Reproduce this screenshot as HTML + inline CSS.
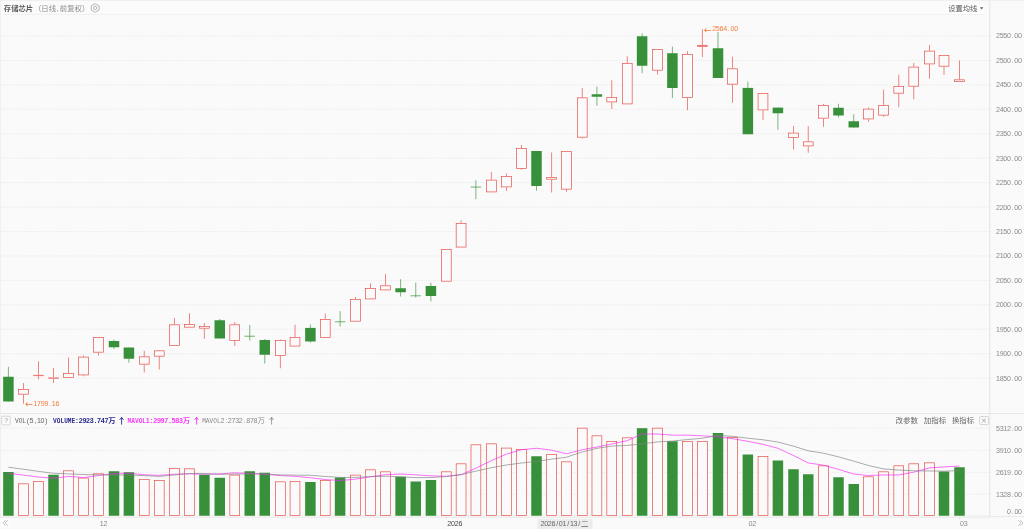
<!DOCTYPE html>
<html lang="zh"><head><meta charset="utf-8"><title>存储芯片 K线</title>
<style>
html,body{margin:0;padding:0;background:#fafafa;overflow:hidden}
svg{display:block;font-family:"Liberation Sans","Noto Sans CJK SC",sans-serif}
.ax{font-family:"Liberation Mono",monospace;font-size:7.4px;fill:#8a8a8a}
.cj{font-size:7.4px}
</style></head><body>
<svg width="1024" height="529" viewBox="0 0 1024 529">
<rect x="0" y="0" width="1024" height="529" fill="#fafafa"/>
<rect x="1.5" y="1.5" width="982.5" height="12.7" fill="#fbfbfb"/>
<rect x="0" y="0" width="1024" height="1" fill="#f0f0f0"/>
<rect x="0" y="1" width="0.9" height="516.5" fill="#efefef"/>
<rect x="946.5" y="3.6" width="37.5" height="10.6" fill="#fefefe"/>
<line x1="3" y1="14.4" x2="984" y2="14.4" stroke="#ececec" stroke-width="0.7"/>
<g stroke="#e0e0e0" stroke-width="0.62" stroke-dasharray="1.24 1.24" fill="none">
<line x1="1.5" y1="36.00" x2="991.3" y2="36.00"/>
<line x1="1.5" y1="60.44" x2="991.3" y2="60.44"/>
<line x1="1.5" y1="84.88" x2="991.3" y2="84.88"/>
<line x1="1.5" y1="109.32" x2="991.3" y2="109.32"/>
<line x1="1.5" y1="133.76" x2="991.3" y2="133.76"/>
<line x1="1.5" y1="158.20" x2="991.3" y2="158.20"/>
<line x1="1.5" y1="182.64" x2="991.3" y2="182.64"/>
<line x1="1.5" y1="207.08" x2="991.3" y2="207.08"/>
<line x1="1.5" y1="231.52" x2="991.3" y2="231.52"/>
<line x1="1.5" y1="255.96" x2="991.3" y2="255.96"/>
<line x1="1.5" y1="280.40" x2="991.3" y2="280.40"/>
<line x1="1.5" y1="304.84" x2="991.3" y2="304.84"/>
<line x1="1.5" y1="329.28" x2="991.3" y2="329.28"/>
<line x1="1.5" y1="353.72" x2="991.3" y2="353.72"/>
<line x1="1.5" y1="378.16" x2="991.3" y2="378.16"/>
<line x1="1.5" y1="428.00" x2="991.3" y2="428.00"/>
<line x1="1.5" y1="450.50" x2="991.3" y2="450.50"/>
<line x1="1.5" y1="472.40" x2="991.3" y2="472.40"/>
<line x1="1.5" y1="494.20" x2="991.3" y2="494.20"/>
<line x1="1.5" y1="515.60" x2="991.3" y2="515.60"/>
</g>
<g stroke="#e2e2e2" stroke-width="0.8" fill="none">
<line x1="989.7" y1="1" x2="989.7" y2="516.8" stroke-width="0.7" stroke="#dedede"/>
<line x1="0" y1="413.5" x2="1024" y2="413.5"/>
<line x1="0" y1="517.2" x2="990" y2="517.2"/><line x1="990" y1="516.6" x2="1024" y2="516.6"/>
<line x1="747.6" y1="517" x2="747.6" y2="519.5"/>
<line x1="959.5" y1="517" x2="959.5" y2="519.5"/>
<line x1="98.5" y1="517" x2="98.5" y2="519.3"/>
<line x1="446.3" y1="517" x2="446.3" y2="519.3"/>
</g>
<g class="ax">
<text x="997.94 1001.62 1005.30 1008.98 1012.66 1016.34 1020.02" y="38.45" font-family="Liberation Sans,sans-serif" font-size="7.1px" text-anchor="middle" fill="#8a8a8a">2550.00</text>
<text x="997.94 1001.62 1005.30 1008.98 1012.66 1016.34 1020.02" y="62.89" font-family="Liberation Sans,sans-serif" font-size="7.1px" text-anchor="middle" fill="#8a8a8a">2500.00</text>
<text x="997.94 1001.62 1005.30 1008.98 1012.66 1016.34 1020.02" y="87.33" font-family="Liberation Sans,sans-serif" font-size="7.1px" text-anchor="middle" fill="#8a8a8a">2450.00</text>
<text x="997.94 1001.62 1005.30 1008.98 1012.66 1016.34 1020.02" y="111.77" font-family="Liberation Sans,sans-serif" font-size="7.1px" text-anchor="middle" fill="#8a8a8a">2400.00</text>
<text x="997.94 1001.62 1005.30 1008.98 1012.66 1016.34 1020.02" y="136.21" font-family="Liberation Sans,sans-serif" font-size="7.1px" text-anchor="middle" fill="#8a8a8a">2350.00</text>
<text x="997.94 1001.62 1005.30 1008.98 1012.66 1016.34 1020.02" y="160.65" font-family="Liberation Sans,sans-serif" font-size="7.1px" text-anchor="middle" fill="#8a8a8a">2300.00</text>
<text x="997.94 1001.62 1005.30 1008.98 1012.66 1016.34 1020.02" y="185.09" font-family="Liberation Sans,sans-serif" font-size="7.1px" text-anchor="middle" fill="#8a8a8a">2250.00</text>
<text x="997.94 1001.62 1005.30 1008.98 1012.66 1016.34 1020.02" y="209.53" font-family="Liberation Sans,sans-serif" font-size="7.1px" text-anchor="middle" fill="#8a8a8a">2200.00</text>
<text x="997.94 1001.62 1005.30 1008.98 1012.66 1016.34 1020.02" y="233.97" font-family="Liberation Sans,sans-serif" font-size="7.1px" text-anchor="middle" fill="#8a8a8a">2150.00</text>
<text x="997.94 1001.62 1005.30 1008.98 1012.66 1016.34 1020.02" y="258.41" font-family="Liberation Sans,sans-serif" font-size="7.1px" text-anchor="middle" fill="#8a8a8a">2100.00</text>
<text x="997.94 1001.62 1005.30 1008.98 1012.66 1016.34 1020.02" y="282.85" font-family="Liberation Sans,sans-serif" font-size="7.1px" text-anchor="middle" fill="#8a8a8a">2050.00</text>
<text x="997.94 1001.62 1005.30 1008.98 1012.66 1016.34 1020.02" y="307.29" font-family="Liberation Sans,sans-serif" font-size="7.1px" text-anchor="middle" fill="#8a8a8a">2000.00</text>
<text x="997.94 1001.62 1005.30 1008.98 1012.66 1016.34 1020.02" y="331.73" font-family="Liberation Sans,sans-serif" font-size="7.1px" text-anchor="middle" fill="#8a8a8a">1950.00</text>
<text x="997.94 1001.62 1005.30 1008.98 1012.66 1016.34 1020.02" y="356.17" font-family="Liberation Sans,sans-serif" font-size="7.1px" text-anchor="middle" fill="#8a8a8a">1900.00</text>
<text x="997.94 1001.62 1005.30 1008.98 1012.66 1016.34 1020.02" y="380.61" font-family="Liberation Sans,sans-serif" font-size="7.1px" text-anchor="middle" fill="#8a8a8a">1850.00</text>
<text x="997.94 1001.62 1005.30 1008.98 1012.66 1016.34 1020.02" y="430.55" font-family="Liberation Sans,sans-serif" font-size="7.1px" text-anchor="middle" fill="#8a8a8a">5312.00</text>
<text x="997.94 1001.62 1005.30 1008.98 1012.66 1016.34 1020.02" y="453.45" font-family="Liberation Sans,sans-serif" font-size="7.1px" text-anchor="middle" fill="#8a8a8a">3910.00</text>
<text x="997.94 1001.62 1005.30 1008.98 1012.66 1016.34 1020.02" y="475.25" font-family="Liberation Sans,sans-serif" font-size="7.1px" text-anchor="middle" fill="#8a8a8a">2619.00</text>
<text x="997.94 1001.62 1005.30 1008.98 1012.66 1016.34 1020.02" y="496.65" font-family="Liberation Sans,sans-serif" font-size="7.1px" text-anchor="middle" fill="#8a8a8a">1328.00</text>
<text x="1009.04 1012.72 1016.40 1020.08" y="513.80" font-family="Liberation Sans,sans-serif" font-size="7.1px" text-anchor="middle" fill="#8a8a8a">0.00</text>
</g>
<g stroke-width="0.66">
<line x1="8.40" y1="366.75" x2="8.40" y2="401.50" stroke="#38913a"/><rect x="3.15" y="376.75" width="10.50" height="24.75" fill="#38913a" stroke="none"/>
<line x1="23.50" y1="383.00" x2="23.50" y2="389.25" stroke="#e64840"/><line x1="23.50" y1="394.50" x2="23.50" y2="403.75" stroke="#e64840"/><rect x="18.58" y="389.58" width="9.84" height="4.59" fill="#fafafa" stroke="#e64840"/>
<line x1="38.50" y1="361.25" x2="38.50" y2="374.90" stroke="#e64840"/><line x1="38.50" y1="376.10" x2="38.50" y2="379.25" stroke="#e64840"/><rect x="33.25" y="374.90" width="10.50" height="1.20" fill="#ec7a78" stroke="none"/>
<line x1="53.50" y1="368.00" x2="53.50" y2="377.40" stroke="#e64840"/><line x1="53.50" y1="378.80" x2="53.50" y2="383.00" stroke="#e64840"/><rect x="48.25" y="377.40" width="10.50" height="1.40" fill="#ec7a78" stroke="none"/>
<line x1="68.50" y1="357.50" x2="68.50" y2="373.00" stroke="#e64840"/><rect x="63.58" y="373.33" width="9.84" height="4.09" fill="#fafafa" stroke="#e64840"/>
<line x1="83.50" y1="355.50" x2="83.50" y2="356.75" stroke="#e64840"/><line x1="83.50" y1="375.25" x2="83.50" y2="376.25" stroke="#e64840"/><rect x="78.58" y="357.08" width="9.84" height="17.84" fill="#fafafa" stroke="#e64840"/>
<line x1="98.50" y1="352.50" x2="98.50" y2="355.75" stroke="#e64840"/><rect x="93.58" y="337.58" width="9.84" height="14.59" fill="#fafafa" stroke="#e64840"/>
<line x1="114.00" y1="339.50" x2="114.00" y2="349.00" stroke="#38913a"/><rect x="108.75" y="341.00" width="10.50" height="6.25" fill="#38913a" stroke="none"/>
<line x1="128.90" y1="347.50" x2="128.90" y2="362.75" stroke="#38913a"/><rect x="123.65" y="347.50" width="10.50" height="11.25" fill="#38913a" stroke="none"/>
<line x1="144.25" y1="350.75" x2="144.25" y2="356.50" stroke="#e64840"/><line x1="144.25" y1="364.50" x2="144.25" y2="372.50" stroke="#e64840"/><rect x="139.33" y="356.83" width="9.84" height="7.34" fill="#fafafa" stroke="#e64840"/>
<line x1="159.25" y1="356.50" x2="159.25" y2="369.50" stroke="#e64840"/><rect x="154.33" y="350.83" width="9.84" height="5.34" fill="#fafafa" stroke="#e64840"/>
<line x1="174.50" y1="318.00" x2="174.50" y2="324.50" stroke="#e64840"/><rect x="169.58" y="324.83" width="9.84" height="20.84" fill="#fafafa" stroke="#e64840"/>
<line x1="189.50" y1="313.25" x2="189.50" y2="324.25" stroke="#e64840"/><rect x="184.58" y="324.58" width="9.84" height="2.59" fill="#fafafa" stroke="#e64840"/>
<line x1="204.40" y1="323.00" x2="204.40" y2="326.25" stroke="#e64840"/><line x1="204.40" y1="328.50" x2="204.40" y2="338.75" stroke="#e64840"/><rect x="199.48" y="326.58" width="9.84" height="1.59" fill="#fafafa" stroke="#e64840"/>
<line x1="219.75" y1="319.00" x2="219.75" y2="338.50" stroke="#38913a"/><rect x="214.50" y="320.25" width="10.50" height="18.25" fill="#38913a" stroke="none"/>
<line x1="234.75" y1="322.00" x2="234.75" y2="324.50" stroke="#e64840"/><line x1="234.75" y1="341.00" x2="234.75" y2="346.00" stroke="#e64840"/><rect x="229.83" y="324.83" width="9.84" height="15.84" fill="#fafafa" stroke="#e64840"/>
<line x1="249.75" y1="325.00" x2="249.75" y2="340.50" stroke="#38913a"/><rect x="244.50" y="335.80" width="10.50" height="0.70" fill="#38913a" stroke="none"/>
<line x1="264.75" y1="339.00" x2="264.75" y2="363.50" stroke="#38913a"/><rect x="259.50" y="340.00" width="10.50" height="14.75" fill="#38913a" stroke="none"/>
<line x1="280.40" y1="339.50" x2="280.40" y2="340.00" stroke="#e64840"/><line x1="280.40" y1="355.75" x2="280.40" y2="368.25" stroke="#e64840"/><rect x="275.48" y="340.33" width="9.84" height="15.09" fill="#fafafa" stroke="#e64840"/>
<line x1="295.00" y1="324.75" x2="295.00" y2="337.10" stroke="#e64840"/><rect x="290.08" y="337.43" width="9.84" height="8.64" fill="#fafafa" stroke="#e64840"/>
<line x1="310.40" y1="324.50" x2="310.40" y2="342.50" stroke="#38913a"/><rect x="305.15" y="327.90" width="10.50" height="13.60" fill="#38913a" stroke="none"/>
<line x1="325.25" y1="313.50" x2="325.25" y2="319.25" stroke="#e64840"/><rect x="320.33" y="319.58" width="9.84" height="18.09" fill="#fafafa" stroke="#e64840"/>
<line x1="340.10" y1="311.25" x2="340.10" y2="326.50" stroke="#38913a"/><rect x="334.85" y="321.50" width="10.50" height="0.70" fill="#38913a" stroke="none"/>
<line x1="355.50" y1="297.00" x2="355.50" y2="299.00" stroke="#e64840"/><rect x="350.58" y="299.33" width="9.84" height="21.84" fill="#fafafa" stroke="#e64840"/>
<line x1="370.50" y1="283.25" x2="370.50" y2="288.25" stroke="#e64840"/><rect x="365.58" y="288.58" width="9.84" height="10.34" fill="#fafafa" stroke="#e64840"/>
<line x1="385.50" y1="274.00" x2="385.50" y2="285.50" stroke="#e64840"/><rect x="380.58" y="285.83" width="9.84" height="4.09" fill="#fafafa" stroke="#e64840"/>
<line x1="400.60" y1="279.25" x2="400.60" y2="296.50" stroke="#38913a"/><rect x="395.35" y="288.25" width="10.50" height="4.00" fill="#38913a" stroke="none"/>
<line x1="415.75" y1="282.75" x2="415.75" y2="297.50" stroke="#38913a"/><rect x="410.50" y="295.50" width="10.50" height="0.70" fill="#38913a" stroke="none"/>
<line x1="430.90" y1="282.75" x2="430.90" y2="301.50" stroke="#38913a"/><rect x="425.65" y="286.00" width="10.50" height="10.00" fill="#38913a" stroke="none"/>
<rect x="441.38" y="249.33" width="9.84" height="31.84" fill="#fafafa" stroke="#e64840"/>
<line x1="461.10" y1="220.25" x2="461.10" y2="223.25" stroke="#e64840"/><rect x="456.18" y="223.58" width="9.84" height="23.49" fill="#fafafa" stroke="#e64840"/>
<line x1="475.90" y1="180.25" x2="475.90" y2="199.25" stroke="#38913a"/><rect x="470.65" y="186.70" width="10.50" height="0.70" fill="#38913a" stroke="none"/>
<line x1="491.40" y1="172.00" x2="491.40" y2="179.75" stroke="#e64840"/><rect x="486.48" y="180.08" width="9.84" height="11.84" fill="#fafafa" stroke="#e64840"/>
<line x1="506.50" y1="173.50" x2="506.50" y2="176.25" stroke="#e64840"/><line x1="506.50" y1="187.25" x2="506.50" y2="191.00" stroke="#e64840"/><rect x="501.58" y="176.58" width="9.84" height="10.34" fill="#fafafa" stroke="#e64840"/>
<line x1="521.50" y1="145.00" x2="521.50" y2="148.25" stroke="#e64840"/><line x1="521.50" y1="168.75" x2="521.50" y2="169.75" stroke="#e64840"/><rect x="516.58" y="148.58" width="9.84" height="19.84" fill="#fafafa" stroke="#e64840"/>
<line x1="536.50" y1="151.00" x2="536.50" y2="190.75" stroke="#38913a"/><rect x="531.25" y="151.00" width="10.50" height="35.00" fill="#38913a" stroke="none"/>
<line x1="551.60" y1="152.50" x2="551.60" y2="177.25" stroke="#e64840"/><line x1="551.60" y1="179.50" x2="551.60" y2="192.50" stroke="#e64840"/><rect x="546.68" y="177.58" width="9.84" height="1.59" fill="#fafafa" stroke="#e64840"/>
<line x1="566.50" y1="189.50" x2="566.50" y2="191.75" stroke="#e64840"/><rect x="561.58" y="151.33" width="9.84" height="37.84" fill="#fafafa" stroke="#e64840"/>
<line x1="582.25" y1="88.00" x2="582.25" y2="97.50" stroke="#e64840"/><line x1="582.25" y1="137.50" x2="582.25" y2="138.50" stroke="#e64840"/><rect x="577.33" y="97.83" width="9.84" height="39.34" fill="#fafafa" stroke="#e64840"/>
<line x1="596.90" y1="86.50" x2="596.90" y2="105.75" stroke="#38913a"/><rect x="591.65" y="94.25" width="10.50" height="2.50" fill="#38913a" stroke="none"/>
<line x1="611.75" y1="80.25" x2="611.75" y2="97.25" stroke="#e64840"/><line x1="611.75" y1="102.25" x2="611.75" y2="109.00" stroke="#e64840"/><rect x="606.83" y="97.58" width="9.84" height="4.34" fill="#fafafa" stroke="#e64840"/>
<line x1="627.25" y1="56.25" x2="627.25" y2="63.25" stroke="#e64840"/><rect x="622.33" y="63.58" width="9.84" height="40.34" fill="#fafafa" stroke="#e64840"/>
<line x1="642.10" y1="33.25" x2="642.10" y2="73.25" stroke="#38913a"/><rect x="636.85" y="36.25" width="10.50" height="29.50" fill="#38913a" stroke="none"/>
<line x1="657.50" y1="70.50" x2="657.50" y2="74.50" stroke="#e64840"/><rect x="652.58" y="49.58" width="9.84" height="20.59" fill="#fafafa" stroke="#e64840"/>
<line x1="672.40" y1="46.50" x2="672.40" y2="98.00" stroke="#38913a"/><rect x="667.15" y="53.25" width="10.50" height="34.75" fill="#38913a" stroke="none"/>
<line x1="687.50" y1="51.25" x2="687.50" y2="54.25" stroke="#e64840"/><line x1="687.50" y1="97.75" x2="687.50" y2="110.25" stroke="#e64840"/><rect x="682.58" y="54.58" width="9.84" height="42.84" fill="#fafafa" stroke="#e64840"/>
<line x1="702.40" y1="29.10" x2="702.40" y2="44.90" stroke="#e64840"/><line x1="702.40" y1="46.90" x2="702.40" y2="57.00" stroke="#e64840"/><rect x="697.15" y="44.90" width="10.50" height="2.00" fill="#ec7a78" stroke="none"/>
<line x1="718.00" y1="32.00" x2="718.00" y2="78.00" stroke="#38913a"/><rect x="712.75" y="48.25" width="10.50" height="29.75" fill="#38913a" stroke="none"/>
<line x1="732.50" y1="56.75" x2="732.50" y2="68.50" stroke="#e64840"/><line x1="732.50" y1="84.50" x2="732.50" y2="102.75" stroke="#e64840"/><rect x="727.58" y="68.83" width="9.84" height="15.34" fill="#fafafa" stroke="#e64840"/>
<line x1="747.85" y1="81.50" x2="747.85" y2="134.25" stroke="#38913a"/><rect x="742.60" y="87.90" width="10.50" height="46.35" fill="#38913a" stroke="none"/>
<line x1="763.00" y1="110.25" x2="763.00" y2="120.00" stroke="#e64840"/><rect x="758.08" y="93.58" width="9.84" height="16.34" fill="#fafafa" stroke="#e64840"/>
<line x1="777.90" y1="107.60" x2="777.90" y2="129.75" stroke="#38913a"/><rect x="772.65" y="107.60" width="10.50" height="5.65" fill="#38913a" stroke="none"/>
<line x1="793.50" y1="126.00" x2="793.50" y2="132.75" stroke="#e64840"/><line x1="793.50" y1="137.75" x2="793.50" y2="149.50" stroke="#e64840"/><rect x="788.58" y="133.08" width="9.84" height="4.34" fill="#fafafa" stroke="#e64840"/>
<line x1="808.25" y1="126.00" x2="808.25" y2="141.50" stroke="#e64840"/><line x1="808.25" y1="146.25" x2="808.25" y2="152.75" stroke="#e64840"/><rect x="803.33" y="141.83" width="9.84" height="4.09" fill="#fafafa" stroke="#e64840"/>
<line x1="823.50" y1="104.00" x2="823.50" y2="105.25" stroke="#e64840"/><line x1="823.50" y1="118.50" x2="823.50" y2="126.75" stroke="#e64840"/><rect x="818.58" y="105.58" width="9.84" height="12.59" fill="#fafafa" stroke="#e64840"/>
<line x1="838.50" y1="103.75" x2="838.50" y2="117.50" stroke="#38913a"/><rect x="833.25" y="107.75" width="10.50" height="7.75" fill="#38913a" stroke="none"/>
<line x1="853.75" y1="114.25" x2="853.75" y2="127.50" stroke="#38913a"/><rect x="848.50" y="121.25" width="10.50" height="6.25" fill="#38913a" stroke="none"/>
<line x1="868.50" y1="107.50" x2="868.50" y2="108.75" stroke="#e64840"/><line x1="868.50" y1="119.25" x2="868.50" y2="121.75" stroke="#e64840"/><rect x="863.58" y="109.08" width="9.84" height="9.84" fill="#fafafa" stroke="#e64840"/>
<line x1="883.60" y1="89.50" x2="883.60" y2="105.25" stroke="#e64840"/><line x1="883.60" y1="115.50" x2="883.60" y2="116.75" stroke="#e64840"/><rect x="878.68" y="105.58" width="9.84" height="9.59" fill="#fafafa" stroke="#e64840"/>
<line x1="898.75" y1="74.75" x2="898.75" y2="86.25" stroke="#e64840"/><line x1="898.75" y1="93.50" x2="898.75" y2="107.25" stroke="#e64840"/><rect x="893.83" y="86.58" width="9.84" height="6.59" fill="#fafafa" stroke="#e64840"/>
<line x1="913.75" y1="63.00" x2="913.75" y2="66.75" stroke="#e64840"/><line x1="913.75" y1="86.50" x2="913.75" y2="99.25" stroke="#e64840"/><rect x="908.83" y="67.08" width="9.84" height="19.09" fill="#fafafa" stroke="#e64840"/>
<line x1="929.50" y1="45.00" x2="929.50" y2="50.75" stroke="#e64840"/><line x1="929.50" y1="64.25" x2="929.50" y2="78.75" stroke="#e64840"/><rect x="924.58" y="51.08" width="9.84" height="12.84" fill="#fafafa" stroke="#e64840"/>
<line x1="944.00" y1="66.50" x2="944.00" y2="75.00" stroke="#e64840"/><rect x="939.08" y="55.58" width="9.84" height="10.59" fill="#fafafa" stroke="#e64840"/>
<line x1="959.50" y1="60.50" x2="959.50" y2="79.50" stroke="#e64840"/><rect x="954.58" y="79.83" width="9.84" height="1.59" fill="#fafafa" stroke="#e64840"/>
</g>
<g stroke-width="0.66">
<rect x="3.15" y="472.00" width="10.50" height="43.75" fill="#38913a" stroke="none"/>
<rect x="18.58" y="483.83" width="9.84" height="31.59" fill="#fafafa" stroke="#e64840"/>
<rect x="33.58" y="481.58" width="9.84" height="33.84" fill="#fafafa" stroke="#e64840"/>
<rect x="48.25" y="474.75" width="10.50" height="41.00" fill="#38913a" stroke="none"/>
<rect x="63.58" y="470.83" width="9.84" height="44.59" fill="#fafafa" stroke="#e64840"/>
<rect x="78.58" y="478.08" width="9.84" height="37.34" fill="#fafafa" stroke="#e64840"/>
<rect x="93.58" y="473.83" width="9.84" height="41.59" fill="#fafafa" stroke="#e64840"/>
<rect x="108.75" y="471.25" width="10.50" height="44.50" fill="#38913a" stroke="none"/>
<rect x="123.65" y="472.25" width="10.50" height="43.50" fill="#38913a" stroke="none"/>
<rect x="139.33" y="479.58" width="9.84" height="35.84" fill="#fafafa" stroke="#e64840"/>
<rect x="154.33" y="480.58" width="9.84" height="34.84" fill="#fafafa" stroke="#e64840"/>
<rect x="169.58" y="468.58" width="9.84" height="46.84" fill="#fafafa" stroke="#e64840"/>
<rect x="184.58" y="468.83" width="9.84" height="46.59" fill="#fafafa" stroke="#e64840"/>
<rect x="199.15" y="474.75" width="10.50" height="41.00" fill="#38913a" stroke="none"/>
<rect x="214.50" y="477.75" width="10.50" height="38.00" fill="#38913a" stroke="none"/>
<rect x="229.83" y="475.08" width="9.84" height="40.34" fill="#fafafa" stroke="#e64840"/>
<rect x="244.50" y="471.25" width="10.50" height="44.50" fill="#38913a" stroke="none"/>
<rect x="259.50" y="472.75" width="10.50" height="43.00" fill="#38913a" stroke="none"/>
<rect x="275.48" y="481.83" width="9.84" height="33.59" fill="#fafafa" stroke="#e64840"/>
<rect x="290.08" y="481.58" width="9.84" height="33.84" fill="#fafafa" stroke="#e64840"/>
<rect x="305.15" y="482.00" width="10.50" height="33.75" fill="#38913a" stroke="none"/>
<rect x="320.33" y="480.58" width="9.84" height="34.84" fill="#fafafa" stroke="#e64840"/>
<rect x="334.85" y="477.50" width="10.50" height="38.25" fill="#38913a" stroke="none"/>
<rect x="350.58" y="475.08" width="9.84" height="40.34" fill="#fafafa" stroke="#e64840"/>
<rect x="365.58" y="469.83" width="9.84" height="45.59" fill="#fafafa" stroke="#e64840"/>
<rect x="380.58" y="471.83" width="9.84" height="43.59" fill="#fafafa" stroke="#e64840"/>
<rect x="395.35" y="476.75" width="10.50" height="39.00" fill="#38913a" stroke="none"/>
<rect x="410.50" y="481.50" width="10.50" height="34.25" fill="#38913a" stroke="none"/>
<rect x="425.65" y="480.00" width="10.50" height="35.75" fill="#38913a" stroke="none"/>
<rect x="441.38" y="471.83" width="9.84" height="43.59" fill="#fafafa" stroke="#e64840"/>
<rect x="456.18" y="463.83" width="9.84" height="51.59" fill="#fafafa" stroke="#e64840"/>
<rect x="470.98" y="444.83" width="9.84" height="70.59" fill="#fafafa" stroke="#e64840"/>
<rect x="486.48" y="443.83" width="9.84" height="71.59" fill="#fafafa" stroke="#e64840"/>
<rect x="501.58" y="448.08" width="9.84" height="67.34" fill="#fafafa" stroke="#e64840"/>
<rect x="516.58" y="449.58" width="9.84" height="65.84" fill="#fafafa" stroke="#e64840"/>
<rect x="531.25" y="456.25" width="10.50" height="59.50" fill="#38913a" stroke="none"/>
<rect x="546.68" y="454.33" width="9.84" height="61.09" fill="#fafafa" stroke="#e64840"/>
<rect x="561.58" y="461.83" width="9.84" height="53.59" fill="#fafafa" stroke="#e64840"/>
<rect x="577.33" y="428.13" width="9.84" height="87.29" fill="#fafafa" stroke="#e64840"/>
<rect x="591.98" y="435.83" width="9.84" height="79.59" fill="#fafafa" stroke="#e64840"/>
<rect x="606.83" y="441.33" width="9.84" height="74.09" fill="#fafafa" stroke="#e64840"/>
<rect x="622.33" y="437.83" width="9.84" height="77.59" fill="#fafafa" stroke="#e64840"/>
<rect x="636.85" y="428.20" width="10.50" height="87.55" fill="#38913a" stroke="none"/>
<rect x="652.58" y="428.13" width="9.84" height="87.29" fill="#fafafa" stroke="#e64840"/>
<rect x="667.15" y="441.25" width="10.50" height="74.50" fill="#38913a" stroke="none"/>
<rect x="682.58" y="441.33" width="9.84" height="74.09" fill="#fafafa" stroke="#e64840"/>
<rect x="697.48" y="441.33" width="9.84" height="74.09" fill="#fafafa" stroke="#e64840"/>
<rect x="712.75" y="433.00" width="10.50" height="82.75" fill="#38913a" stroke="none"/>
<rect x="727.58" y="437.33" width="9.84" height="78.09" fill="#fafafa" stroke="#e64840"/>
<rect x="742.60" y="454.50" width="10.50" height="61.25" fill="#38913a" stroke="none"/>
<rect x="758.08" y="456.58" width="9.84" height="58.84" fill="#fafafa" stroke="#e64840"/>
<rect x="772.65" y="460.50" width="10.50" height="55.25" fill="#38913a" stroke="none"/>
<rect x="788.25" y="469.25" width="10.50" height="46.50" fill="#38913a" stroke="none"/>
<rect x="803.00" y="474.25" width="10.50" height="41.50" fill="#38913a" stroke="none"/>
<rect x="818.58" y="465.83" width="9.84" height="49.59" fill="#fafafa" stroke="#e64840"/>
<rect x="833.25" y="477.25" width="10.50" height="38.50" fill="#38913a" stroke="none"/>
<rect x="848.50" y="484.00" width="10.50" height="31.75" fill="#38913a" stroke="none"/>
<rect x="863.58" y="476.83" width="9.84" height="38.59" fill="#fafafa" stroke="#e64840"/>
<rect x="878.68" y="471.83" width="9.84" height="43.59" fill="#fafafa" stroke="#e64840"/>
<rect x="893.83" y="465.83" width="9.84" height="49.59" fill="#fafafa" stroke="#e64840"/>
<rect x="908.83" y="463.83" width="9.84" height="51.59" fill="#fafafa" stroke="#e64840"/>
<rect x="924.58" y="462.83" width="9.84" height="52.59" fill="#fafafa" stroke="#e64840"/>
<rect x="938.75" y="471.50" width="10.50" height="44.25" fill="#38913a" stroke="none"/>
<rect x="954.25" y="467.25" width="10.50" height="48.50" fill="#38913a" stroke="none"/>
</g>
<polyline fill="none" stroke="#fa20fa" stroke-width="0.64" stroke-linejoin="round" points="8.40,473.25 23.50,475.10 38.50,477.00 53.50,478.25 68.50,476.40 83.50,477.55 98.50,475.55 114.00,473.55 128.90,473.05 144.25,474.80 159.25,475.30 174.50,474.25 189.50,473.70 204.40,474.20 219.75,473.90 234.75,472.80 249.75,473.40 264.75,474.25 280.40,475.60 295.00,476.30 310.40,477.75 325.25,479.55 340.10,480.50 355.50,479.15 370.50,476.80 385.50,474.70 400.60,474.00 415.75,474.80 430.90,475.85 446.30,476.25 461.10,474.65 475.90,468.20 491.40,460.60 506.50,454.15 521.50,449.70 536.50,448.25 551.60,450.15 566.50,453.75 582.25,449.76 596.90,447.01 611.75,443.96 627.25,440.66 642.10,434.00 657.50,434.00 672.40,435.15 687.50,435.15 702.40,435.85 718.00,436.81 732.50,438.65 747.85,441.30 763.00,444.35 777.90,448.25 793.50,455.50 808.25,462.95 823.50,465.15 838.50,469.35 853.75,474.05 868.50,475.50 883.60,474.95 898.75,474.95 913.75,472.20 929.50,467.90 944.00,466.90 959.50,466.05"/>
<polyline fill="none" stroke="#808080" stroke-width="0.66" stroke-linejoin="round" points="8.40,467.25 23.50,469.25 38.50,471.40 53.50,473.25 68.50,473.90 83.50,474.50 98.50,474.90 114.00,474.90 128.90,475.10 144.25,475.60 159.25,476.43 174.50,474.90 189.50,473.62 204.40,473.62 219.75,474.35 234.75,474.05 249.75,473.82 264.75,473.98 280.40,474.90 295.00,475.10 310.40,475.27 325.25,476.48 340.10,477.38 355.50,477.38 370.50,476.55 385.50,476.23 400.60,476.77 415.75,477.65 430.90,477.50 446.30,476.52 461.10,474.68 475.90,471.10 491.40,467.70 506.50,465.00 521.50,462.98 536.50,461.45 551.60,459.18 566.50,457.18 582.25,451.96 596.90,448.36 611.75,446.11 627.25,445.41 642.10,443.88 657.50,441.88 672.40,441.08 687.50,439.56 702.40,438.25 718.00,435.41 732.50,436.32 747.85,438.23 763.00,439.75 777.90,442.05 793.50,446.16 808.25,450.80 823.50,453.23 838.50,456.85 853.75,461.15 868.50,465.50 883.60,468.95 898.75,470.05 913.75,470.77 929.50,470.98 944.00,471.20 959.50,470.50"/>
<text x="3.8" y="11.3" class="cj" font-weight="bold" fill="#5c5c5c" textLength="29.4" lengthAdjust="spacingAndGlyphs">存储芯片</text>
<text x="33.9 41.3 48.7 56.5 59.8 67.2 74.6 82" y="11.3" class="cj" fill="#8c8c8c">（日线,前复权）</text>
<rect x="89.8" y="2.8" width="10.3" height="10.3" fill="#fdfdfd"/>
<g fill="none" stroke="#9a9a9a" stroke-width="0.75" stroke-linejoin="round"><path d="M95.2 3.7 L99.1 5.8 L99.1 10.1 L95.2 12.2 L91.3 10.1 L91.3 5.8 Z"/><circle cx="95.2" cy="7.95" r="1.7"/></g>
<text x="948.2" y="11.1" class="cj" fill="#555" textLength="29.2" lengthAdjust="spacingAndGlyphs">设置均线</text>
<path d="M979.8 7.3 L983.4 7.3 L981.6 9.4 Z" fill="#666"/>
<text x="714.14 717.82 721.50 725.18 728.86 732.54 736.22" y="31.40" font-family="Liberation Sans,sans-serif" font-size="7.1px" text-anchor="middle" fill="#f0803c">2564.00</text>
<text x="35.34 39.02 42.70 46.38 50.06 53.74 57.42" y="405.90" font-family="Liberation Sans,sans-serif" font-size="7.1px" text-anchor="middle" fill="#f0803c">1799.16</text>
<g fill="#f0803c"><text x="704" y="32.5" font-family="DejaVu Sans,sans-serif" font-size="9.4px" textLength="8" lengthAdjust="spacingAndGlyphs">←</text><text x="25.2" y="406.6" font-family="DejaVu Sans,sans-serif" font-size="9.4px" textLength="8" lengthAdjust="spacingAndGlyphs">←</text></g>
<rect x="1.7" y="416.2" width="8.5" height="8.7" rx="1" fill="#fdfdfd" stroke="#bbb" stroke-width="0.6"/>
<text x="4.2" y="423.2" font-size="6.8px" fill="#999">?</text>
<text x="15.00" y="423.10" font-family="Liberation Mono,monospace" font-size="7.4px" fill="#666" textLength="11.04" lengthAdjust="spacingAndGlyphs">VOL</text><text x="27.88 31.56 35.24 38.92 42.60 46.28" y="423.10" font-family="Liberation Sans,sans-serif" font-size="7.1px" text-anchor="middle" fill="#666">(5,10)</text>
<text x="53.10" y="423.10" font-family="Liberation Mono,monospace" font-size="7.4px" fill="#2a2a8c" font-weight="bold" textLength="22.08" lengthAdjust="spacingAndGlyphs">VOLUME</text><text x="77.02 80.70 84.38 88.06 91.74 95.42 99.10 102.78 106.46" y="423.10" font-family="Liberation Sans,sans-serif" font-size="7.1px" text-anchor="middle" fill="#2a2a8c" font-weight="bold">:2923.747</text><text x="108.30" y="423.10" font-size="7.4px" fill="#2a2a8c" font-weight="bold">万</text>
<text x="127.60" y="423.10" font-family="Liberation Mono,monospace" font-size="7.4px" fill="#f63cf6" font-weight="bold" textLength="18.40" lengthAdjust="spacingAndGlyphs">MAVOL</text><text x="147.84 151.52 155.20 158.88 162.56 166.24 169.92 173.60 177.28 180.96" y="423.10" font-family="Liberation Sans,sans-serif" font-size="7.1px" text-anchor="middle" fill="#f63cf6" font-weight="bold">1:2997.583</text><text x="182.80" y="423.10" font-size="7.4px" fill="#f63cf6" font-weight="bold">万</text>
<text x="202.20" y="423.10" font-family="Liberation Mono,monospace" font-size="7.4px" fill="#8a8a8a" textLength="18.40" lengthAdjust="spacingAndGlyphs">MAVOL</text><text x="222.44 226.12 229.80 233.48 237.16 240.84 244.52 248.20 251.88 255.56" y="423.10" font-family="Liberation Sans,sans-serif" font-size="7.1px" text-anchor="middle" fill="#8a8a8a">2:2732.878</text><text x="257.40" y="423.10" font-size="7.4px" fill="#8a8a8a">万</text>
<path d="M121.60 424.6 L121.60 417.3 M119.70 419.9 L121.60 417.3 L123.50 419.9" fill="none" stroke="#3a3a9c" stroke-width="0.95"/>
<path d="M196.60 424.6 L196.60 417.3 M194.70 419.9 L196.60 417.3 L198.50 419.9" fill="none" stroke="#f63cf6" stroke-width="0.95"/>
<path d="M271.60 424.6 L271.60 417.3 M269.70 419.9 L271.60 417.3 L273.50 419.9" fill="none" stroke="#858585" stroke-width="0.80"/>
<g class="cj" fill="#666">
<text x="895.5" y="423.4" textLength="22.5" lengthAdjust="spacingAndGlyphs">改参数</text>
<text x="923.7" y="423.4" textLength="22.5" lengthAdjust="spacingAndGlyphs">加指标</text>
<text x="952" y="423.4" textLength="22" lengthAdjust="spacingAndGlyphs">换指标</text>
</g>
<rect x="979.7" y="416.5" width="8.7" height="8.1" rx="1" fill="#fdfdfd" stroke="#bbb" stroke-width="0.6"/>
<path d="M981.8 418.5 L986 422.6 M986 418.5 L981.8 422.6" stroke="#888" stroke-width="0.7" fill="none"/>
<g class="ax">
<text x="101.84 105.52" y="526.00" font-family="Liberation Sans,sans-serif" font-size="7.1px" text-anchor="middle" fill="#8a8a8a">12</text>
<text x="449.34 453.02 456.70 460.38" y="526.00" font-family="Liberation Sans,sans-serif" font-size="7.1px" text-anchor="middle" fill="#444">2026</text>
<text x="750.54 754.22" y="526.00" font-family="Liberation Sans,sans-serif" font-size="7.1px" text-anchor="middle" fill="#8a8a8a">02</text>
<text x="962.04 965.72" y="526.00" font-family="Liberation Sans,sans-serif" font-size="7.1px" text-anchor="middle" fill="#8a8a8a">03</text>
</g>
<rect x="537.5" y="518.8" width="55" height="10.2" fill="#ececec"/>
<text x="542.44 546.12 549.80 553.48 557.16 560.84 564.52 568.20 571.88 575.56 579.24" y="526.10" font-family="Liberation Sans,sans-serif" font-size="7.1px" text-anchor="middle" fill="#666">2026/01/13/</text><text x="581.08" y="526.10" font-size="7.4px" fill="#666">二</text>
<rect x="1.3" y="518.8" width="7.9" height="8.3" rx="0.8" fill="#ffffff"/><rect x="1016.8" y="518.8" width="7.2" height="8.4" rx="0.8" fill="#ffffff"/>
<g fill="none" stroke="#a8a8a8" stroke-width="0.7"><path d="M5.6 520.1 L2.8 523 L5.6 525.9 M8 520.1 L5.2 523 L8 525.9"/><path d="M1018 520.1 L1020.8 523 L1018 525.9 M1020.3 520.1 L1023.1 523 L1020.3 525.9"/></g>
</svg>
</body></html>
